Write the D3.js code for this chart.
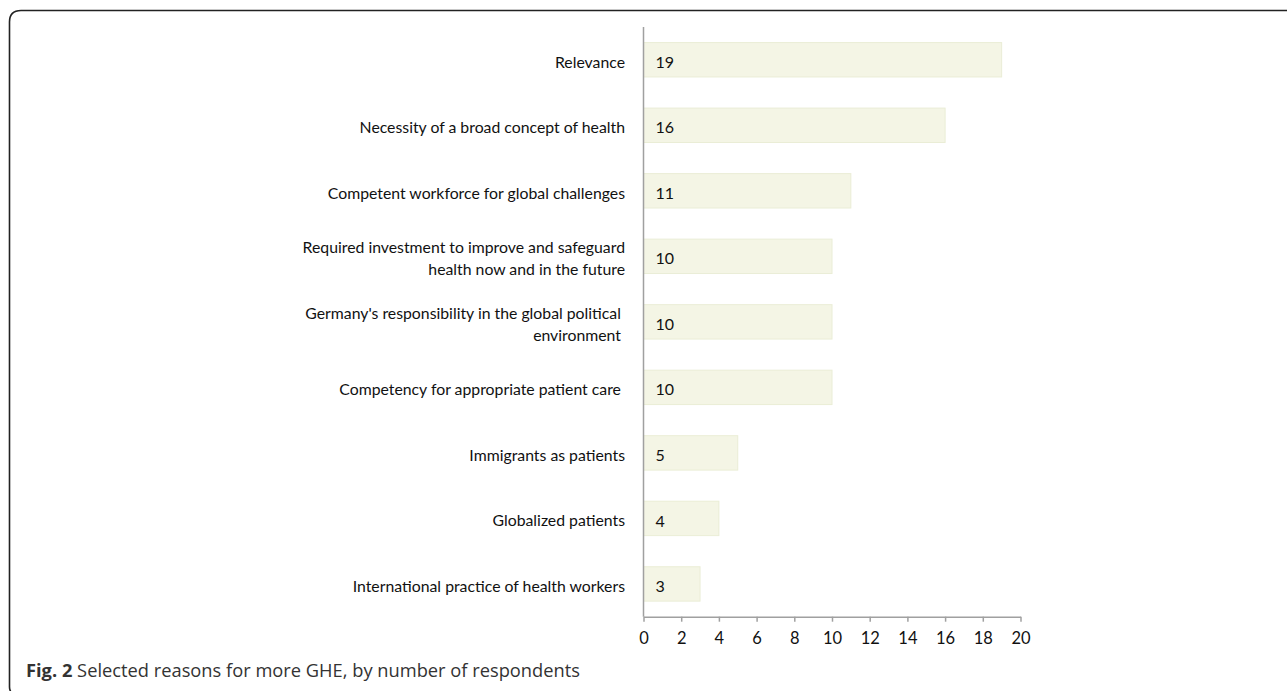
<!DOCTYPE html>
<html>
<head>
<meta charset="utf-8">
<script src="https://cdn.jsdelivr.net/npm/d3@7"></script>
<style>
  body { margin: 0; background: #fff; }
  svg text { white-space: pre; }
</style>
</head>
<body>
<script>
// reasons, top to bottom
var reasons = [
  ["Relevance"],
  ["Necessity of a broad concept of health"],
  ["Competent workforce for global challenges"],
  ["Required investment to improve and safeguard", "health now and in the future"],
  ["Germany's responsibility in the global political ", "environment "],
  ["Competency for appropriate patient care "],
  ["Immigrants as patients"],
  ["Globalized patients"],
  ["International practice of health workers"]
];
var counts = [19, 16, 11, 10, 10, 10, 5, 4, 3];
var ticks = [0, 2, 4, 6, 8, 10, 12, 14, 16, 18, 20];

var width = 1287, height = 691;
var x0 = 643.5, x1 = 1020.5, yTop = 27, yBot = 616.7;
var font = "Lato, 'Open Sans', sans-serif", fs = 15.8;

var svg = d3.select("body").append("svg")
  .attr("width", width)
  .attr("height", height);

// frame with rounded top-left corner
svg.append("path")
  .attr("d", "M9.5," + (height - 4) + " Q9.5,691 12,693 M9.5," + (height - 4) + " L9.5,22 Q9.5,10.5 21,10.5 L" + (width + 2) + ",10.5")
  .attr("fill", "none")
  .attr("stroke", "#222")
  .attr("stroke-width", 1.6);

var x = d3.scaleLinear().domain([0, 20]).range([x0, x1]);
var y = d3.scaleBand()
  .domain(d3.range(counts.length))
  .range([yTop, yBot])
  .paddingInner(0.475)
  .paddingOuter(0.2375);

var data = counts.map(function(c, i) { return {i: i, value: c, label: reasons[i]}; });

svg.selectAll(".bar")
  .data(data)
  .enter().append("rect")
  .attr("class", "bar")
  .attr("x", x(0))
  .attr("y", function(d) { return y(d.i); })
  .attr("width", function(d) { return x(d.value) - x(0); })
  .attr("height", y.bandwidth())
  .attr("fill", "#f4f5e5")
  .attr("stroke", "#eaedd6")
  .attr("stroke-width", 1);

// value labels inside bars
svg.selectAll(".val")
  .data(data)
  .enter().append("text")
  .attr("class", "val")
  .attr("x", x(0) + 12)
  .attr("y", function(d) { return y(d.i) + y.bandwidth() / 2 + 2.5; })
  .attr("dy", "0.35em")
  .attr("font-family", font)
  .attr("font-size", 16)
  .attr("fill", "#111")
  .text(function(d) { return d.value; });

// category labels
var lab = svg.selectAll(".lab")
  .data(data)
  .enter().append("text")
  .attr("class", "lab")
  .attr("text-anchor", "end")
  .attr("font-family", font)
  .attr("font-size", fs)
  .attr("fill", "#111");
lab.each(function(d) {
  var t = d3.select(this);
  var n = d.label.length, lh = 22;
  var cy = y(d.i) + y.bandwidth() / 2 + 2.5;
  d.label.forEach(function(s, k) {
    t.append("tspan")
      .attr("x", 625)
      .attr("y", cy + (k - (n - 1) / 2) * lh)
      .attr("dy", "0.35em")
      .text(s);
  });
});

// axes
var xAxis = d3.axisBottom(x).tickValues(ticks).tickSize(5).tickSizeOuter(0).tickPadding(11);
var gx = svg.append("g")
  .attr("transform", "translate(0," + yBot + ")")
  .call(xAxis);
gx.select(".domain").attr("stroke", "#a0a0a0").attr("stroke-width", 1.5);
gx.selectAll(".tick line").attr("stroke", "#a0a0a0").attr("stroke-width", 1.5);
gx.selectAll(".tick text")
  .attr("font-family", font)
  .attr("font-size", 16.5)
  .attr("fill", "#111");

svg.append("line")
  .attr("x1", x(0)).attr("x2", x(0))
  .attr("y1", yTop).attr("y2", yBot)
  .attr("stroke", "#a0a0a0")
  .attr("stroke-width", 1.5);

// caption
var cap = svg.append("text")
  .attr("x", 26)
  .attr("y", 676.5)
  .attr("font-family", "'Open Sans', 'Noto Sans', sans-serif")
  .attr("font-size", 18.3)
  .attr("fill", "#333");
cap.append("tspan").attr("font-weight", "bold").text("Fig. 2");
cap.append("tspan").text(" Selected reasons for more GHE, by number of respondents");
</script>
</body>
</html>
